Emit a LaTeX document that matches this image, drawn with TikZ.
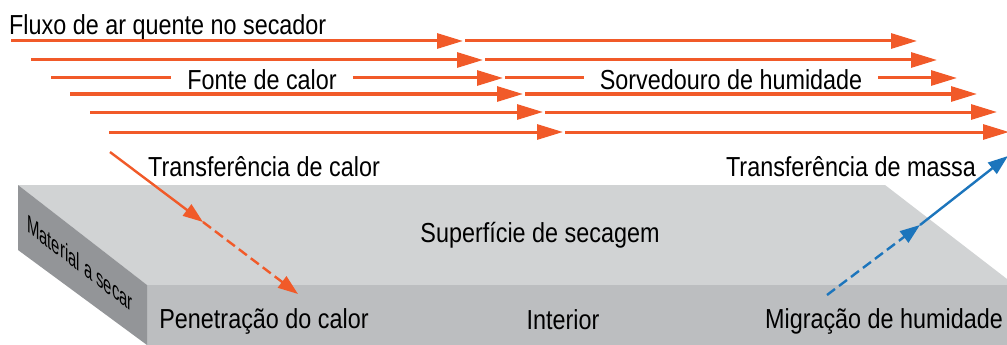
\documentclass[tikz,border=0pt]{standalone}
\usepackage{fontspec}
\setmainfont{Liberation Sans}[FakeStretch=0.85]
\usetikzlibrary{arrows.meta}
\definecolor{hot}{HTML}{F15A29}
\definecolor{wet}{HTML}{1C75BC}
\definecolor{topface}{HTML}{D1D3D4}
\definecolor{frontface}{HTML}{BCBEC0}
\definecolor{sideface}{HTML}{939598}
\begin{document}
\begin{tikzpicture}[x=1pt,y=-1pt,
  lbl/.style={font=\fontsize{27.5}{30}\selectfont, inner sep=0pt, text=black},
  gaplbl/.style={lbl, inner xsep=16pt},
  flow/.style={hot, line width=3pt, -{Triangle[length=26pt,width=15pt]}},
  flowline/.style={hot, line width=3pt},
  heat/.style={hot, line width=2.4pt, -{Triangle[length=20pt,width=14pt]}},
  mass/.style={wet, line width=2.4pt, -{Triangle[length=20pt,width=14pt]}},
  dashpat/.style={dash pattern=on 10pt off 5pt}]
\useasboundingbox (0,0) rectangle (1007,345);
\fill[white] (0,0) rectangle (1007,345);
% slab
\fill[topface] (18,185) -- (885,185) -- (1007,279) -- (1007,285) -- (147,285) -- cycle;
\fill[frontface] (147,285) rectangle (1007,345);
\fill[sideface] (18,185) -- (147,285) -- (147,345) -- (18,250) -- cycle;
% labels
\node[lbl, anchor=base west] (flux) at (9,35) {Fluxo de ar quente no secador};
\node[gaplbl, anchor=base] (fonte) at (262,89) {Fonte de calor};
\node[gaplbl, anchor=base] (sorv) at (731,89) {Sorvedouro de humidade};
\node[lbl, anchor=base] (tcal) at (264,176) {Transferência de calor};
\node[lbl, anchor=base] (tmass) at (851,176) {Transferência de massa};
\node[lbl, anchor=base] (surf) at (540,242) {Superfície de secagem};
\node[lbl, anchor=base] (pen) at (264,328) {Penetração do calor};
\node[lbl, anchor=base] (inter) at (563,329) {Interior};
\node[lbl, anchor=base] (mig) at (884,328) {Migração de humidade};
\begin{scope}[cm={0.70,-0.532,0,1,(80,263)}]
  \node[lbl, font=\fontsize{25}{28}\selectfont, transform shape] (mat) at (0,0) {Material a secar};
\end{scope}
% air flow rows
\coordinate (r1s) at (11,41);  \coordinate (r1m) at (463,41); \coordinate (r1n) at (465,41); \coordinate (r1e) at (917,41);
\coordinate (r2s) at (31,60);  \coordinate (r2m) at (483,60); \coordinate (r2n) at (485,60); \coordinate (r2e) at (937,60);
\coordinate (r3s) at (51,78);  \coordinate (r3m) at (503,78); \coordinate (r3n) at (505,78); \coordinate (r3e) at (957,78);
\coordinate (r4s) at (70,94);  \coordinate (r4m) at (523,94); \coordinate (r4n) at (525,94); \coordinate (r4e) at (977,94);
\coordinate (r5s) at (90,112); \coordinate (r5m) at (543,112); \coordinate (r5n) at (545,112); \coordinate (r5e) at (997,112);
\coordinate (r6s) at (109,132); \coordinate (r6m) at (563,132); \coordinate (r6n) at (565,132); \coordinate (r6e) at (1009,132);
\draw[flow] (r1s) -- (r1m); \draw[flow] (r1n) -- (r1e);
\draw[flow] (r2s) -- (r2m); \draw[flow] (r2n) -- (r2e);
\draw[flowline] (r3s) -- (r3s -| fonte.west);
\draw[flow] (r3s -| fonte.east) -- (r3m);
\draw[flowline] (r3n) -- (r3n -| sorv.west);
\draw[flow] (r3n -| sorv.east) -- (r3e);
\draw[flow] (r4s) -- (r4m); \draw[flow] (r4n) -- (r4e);
\draw[flow] (r5s) -- (r5m); \draw[flow] (r5n) -- (r5e);
\draw[flow] (r6s) -- (r6m); \draw[flow] (r6n) -- (r6e);
% heat transfer
\coordinate (hs) at (110,152); \coordinate (hm) at (203,222); \coordinate (he) at (298,294);
\draw[heat] (hs) -- (hm);
\draw[heat, dashpat] (hm) -- (he);
% mass transfer
\coordinate (ms) at (827,295); \coordinate (mm) at (920,225); \coordinate (me) at (1008,156);
\draw[mass, dashpat] (ms) -- (mm);
\draw[mass] (mm) -- (me);
\end{tikzpicture}
\end{document}
